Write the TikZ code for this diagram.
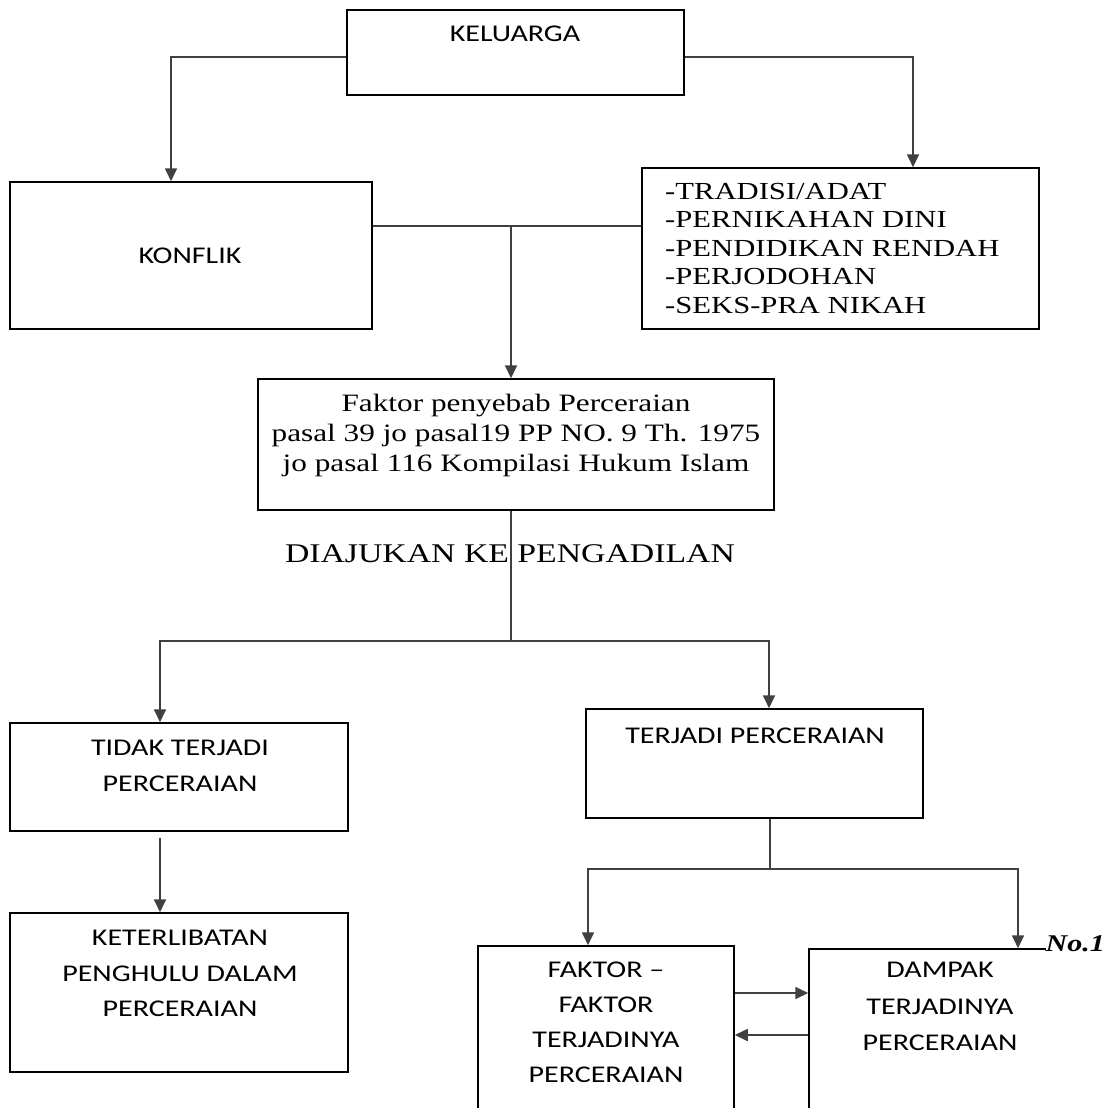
\documentclass[tikz,border=0pt]{standalone}
\usepackage{fontspec}
\setmainfont{Liberation Serif}[FakeStretch=1.25]
\newfontfamily\sansf{Carlito}[FakeStretch=1.25]
\usetikzlibrary{arrows.meta}
\tikzset{
  box/.style={draw=black, line width=1.5pt, rectangle, inner sep=0pt},
  conn/.style={draw=black!75, line width=1.7pt},
  arr/.style={conn, -{Triangle[width=12pt,length=13pt]}},
  stxt/.style={inner sep=0pt, align=center, font=\sansf\fontsize{24}{36}\selectfont},
  rtxt/.style={inner sep=0pt, align=center, font=\fontsize{25}{30}\selectfont}
}
\begin{document}
\begin{tikzpicture}[x=1pt,y=-1pt]
\clip (0,0) rectangle (1111,1108);
\fill[white] (0,0) rectangle (1111,1108);
% boxes
\node[box, minimum width=337pt, minimum height=85pt] (kel) at (515.5,52.5) {};
\node[box, minimum width=362pt, minimum height=147pt] (konf) at (191,255.5) {};
\node[box, minimum width=397pt, minimum height=161pt] (list) at (840.5,248.5) {};
\node[box, minimum width=516pt, minimum height=131pt] (fp) at (516,444.5) {};
\node[box, minimum width=338pt, minimum height=108pt] (tidak) at (179,777) {};
\node[box, minimum width=337pt, minimum height=109pt] (terj) at (754.5,763.5) {};
\node[box, minimum width=338pt, minimum height=159pt] (keter) at (179,992.5) {};
\node[box, minimum width=256pt, minimum height=184pt] (faktor) at (606,1038) {};
\node[box, minimum width=321pt, minimum height=181pt] (dampak) at (969.5,1039.5) {};
% texts
\node[stxt, anchor=base] (tkel) at (515,42) {KELUARGA};
\node[stxt, anchor=base] (tkonf) at (190,263) {KONFLIK};
\node[inner sep=0pt, align=left, anchor=north west, font=\fontsize{24.5}{28.5}\selectfont] (tlist) at (665,183)
  {-TRADISI/ADAT\\-PERNIKAHAN DINI\\-PENDIDIKAN RENDAH\\-PERJODOHAN\\-SEKS-PRA NIKAH};
\node[rtxt, anchor=north] (tfp) at (516,394)
  {Faktor penyebab Perceraian\\pasal 39 jo pasal19 PP NO. 9 Th. 1975\\jo pasal 116 Kompilasi Hukum Islam};
\node[inner sep=0pt, anchor=base, font=\fontsize{27}{27}\selectfont] (tdia) at (510,562) {DIAJUKAN KE PENGADILAN};
\node[stxt] (ttidak) at (180,766) {TIDAK TERJADI\\PERCERAIAN};
\node[stxt, anchor=base] (tterj) at (755,743) {TERJADI PERCERAIAN};
\node[stxt, font=\sansf\fontsize{24}{35.5}\selectfont] (tketer) at (180,973.5) {KETERLIBATAN\\PENGHULU DALAM\\PERCERAIAN};
\node[stxt, font=\sansf\fontsize{24}{35}\selectfont] (tfaktor) at (606,1022.5) {FAKTOR –\\FAKTOR\\TERJADINYA\\PERCERAIAN};
\node[stxt, font=\sansf\fontsize{24}{36.5}\selectfont] (tdampak) at (940,1006.5) {DAMPAK\\TERJADINYA\\PERCERAIAN};
\node[anchor=base east, fill=white, inner sep=0pt, font=\bfseries\itshape\fontsize{24}{24}\selectfont] (tno) at (1105,951) {No.1};
\fill[white] (tno.south east) rectangle (1111,930);
% connectors
\draw[arr] (kel.west |- 0,57) -| (konf.north -| 171,0);
\draw[arr] (kel.east |- 0,57) -| (list.north -| 913,0);
\coordinate (j1) at (511,226);
\draw[conn] (konf.east |- j1) -- (list.west |- j1);
\draw[arr] (j1) -- (fp.north -| j1);
\coordinate (j2) at (511,641);
\draw[conn] (fp.south -| j2) -- (j2);
\draw[arr] (j2) -| (tidak.north -| 160,0);
\draw[arr] (j2) -| (terj.north -| 769,0);
\coordinate (t1) at (160,838);
\draw[arr] (t1) -- (keter.north -| t1);
\coordinate (j3) at (770,869);
\draw[conn] (terj.south -| j3) -- (j3);
\draw[arr] (j3) -| (faktor.north -| 588,0);
\draw[arr] (j3) -| (dampak.north -| 1018,0);
\draw[arr] (faktor.east |- 0,993) -- (dampak.west |- 0,993);
\draw[arr] (dampak.west |- 0,1035) -- (faktor.east |- 0,1035);
\end{tikzpicture}
\end{document}
